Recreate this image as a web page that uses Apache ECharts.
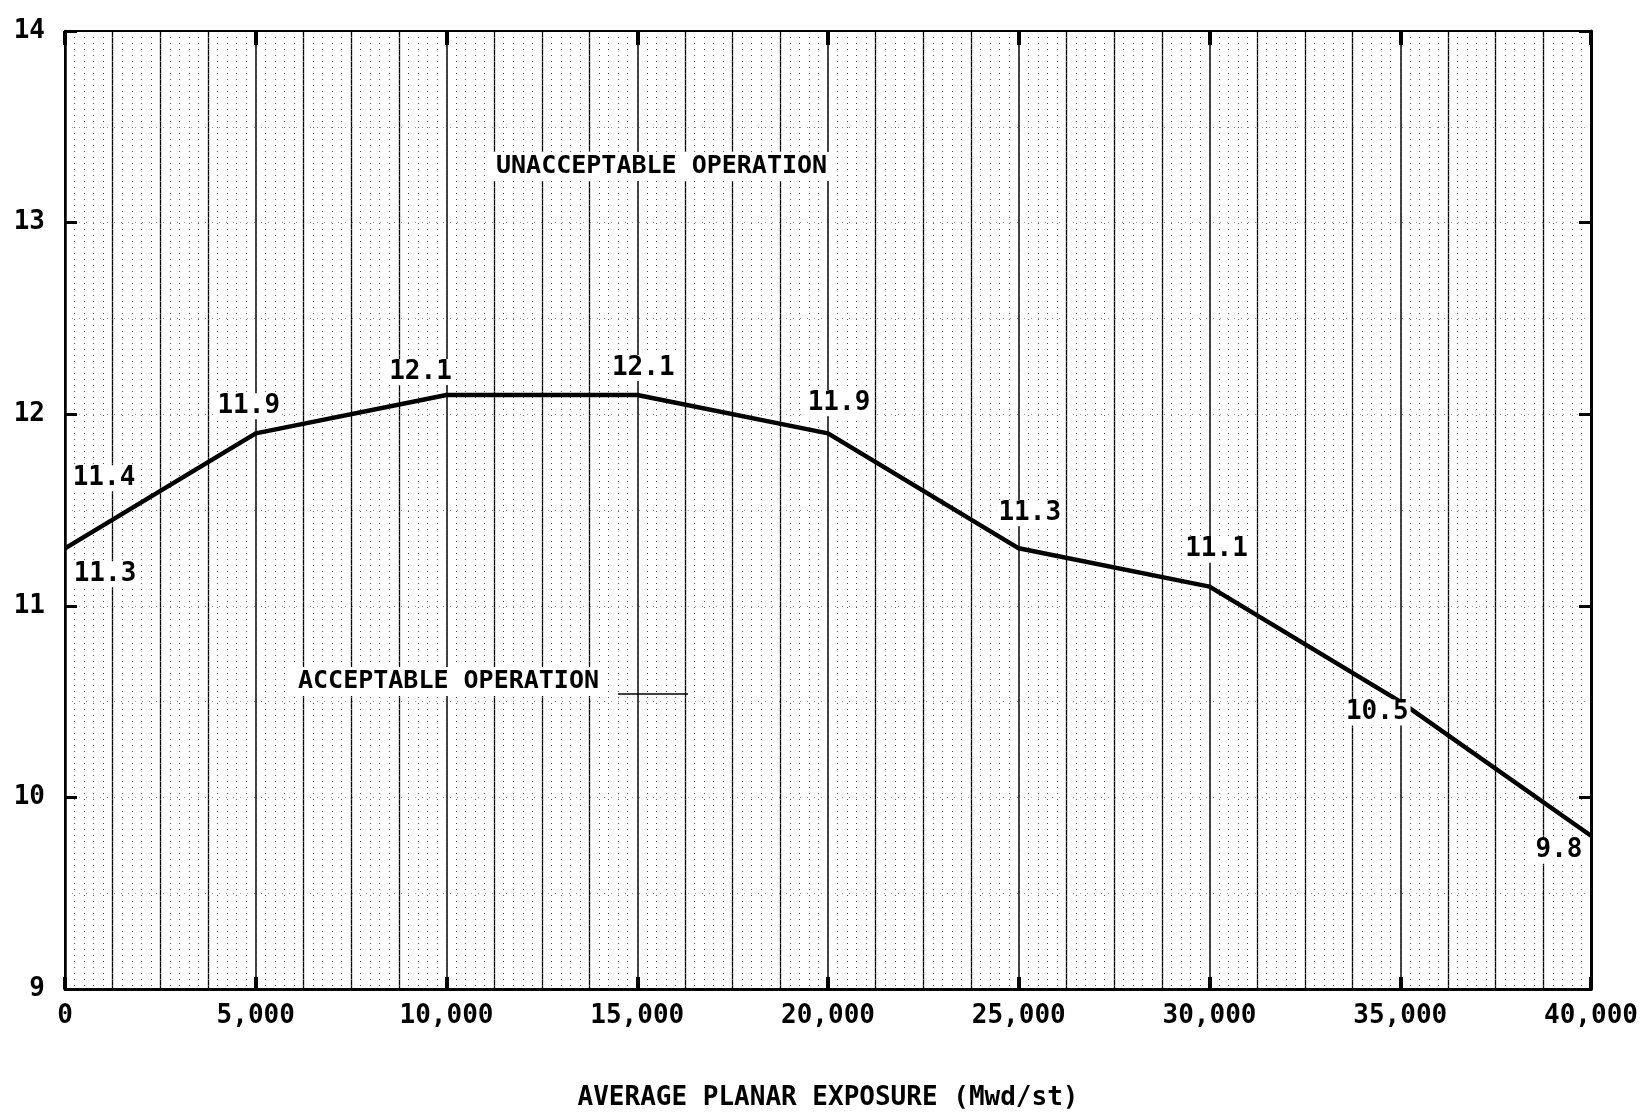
<!DOCTYPE html>
<html><head><meta charset="utf-8">
<script src="https://cdn.jsdelivr.net/npm/echarts@6/dist/echarts.min.js"></script>
<style>html,body{margin:0;padding:0;background:#fff}#c{width:1641px;height:1115px}</style>
</head><body><div id="c"></div>
<script>
// ---- data ----
const exposure = [0, 5000, 10000, 15000, 20000, 25000, 30000, 35000, 40000];
const mlhgr = [11.3, 11.9, 12.1, 12.1, 11.9, 11.3, 11.1, 10.5, 9.8];
const pointLabels = ['11.3', '11.9', '12.1', '12.1', '11.9', '11.3', '11.1', '10.5', '9.8'];
const extraLabelX = [0];
const extraLabelY = [11.3];
const extraLabelText = ['11.4'];
const xTickLabels = ['0', '5,000', '10,000', '15,000', '20,000', '25,000', '30,000', '35,000', '40,000'];
const yTickLabels = ['9', '10', '11', '12', '13', '14'];
const xTitle = 'AVERAGE PLANAR EXPOSURE (Mwd/st)';
const regionUpper = 'UNACCEPTABLE OPERATION';
const regionLower = 'ACCEPTABLE OPERATION';

// ---- styles (positions / offsets) ----
const labelOffsets = [[40, 26], [-7, -27], [-26, -23], [6, -27], [11, -30], [11, -35], [7, -37], [-23, 11], [-32, 15]];
const extraOffsets = [[39, -70]];
const FONT = '"DejaVu Sans Mono", "Liberation Mono", monospace';
const WEIGHT = 'bold';

const chart = echarts.init(document.getElementById('c'), null, {renderer: 'canvas'});

const lineData = exposure.map((x, i) => [x, mlhgr[i]]);
const labelData = exposure.map((x, i) => ({
  value: [x, mlhgr[i]],
  label: {formatter: pointLabels[i], offset: labelOffsets[i]}
})).concat(extraLabelX.map((x, i) => ({
  value: [x, extraLabelY[i]],
  label: {formatter: extraLabelText[i], offset: extraOffsets[i]}
})));

const textBase = {color: '#000', fontFamily: FONT, fontSize: 26, fontWeight: WEIGHT};

chart.setOption({
  animation: false,
  backgroundColor: '#fff',
  grid: {left: 65, right: 50, top: 31, bottom: 126, outerBoundsMode: 'none',
         show: true, borderColor: '#000', borderWidth: 2, backgroundColor: 'transparent'},
  xAxis: [
    {
      type: 'value', min: 0, max: 40000, interval: 5000, position: 'bottom',
      axisLine: {show: true, onZero: false, lineStyle: {color: '#000', width: 3}},
      axisTick: {show: true, inside: true, length: 12, lineStyle: {color: '#000', width: 4}},
      axisLabel: Object.assign({margin: 14, formatter: v => xTickLabels[Math.round(v / 5000)]}, textBase),
      splitLine: {show: true, lineStyle: {color: '#000', width: 1.5}},
      minorTick: {show: false, splitNumber: 4},
      minorSplitLine: {show: true, lineStyle: {color: '#000', width: 1.3}},
      name: xTitle, nameLocation: 'middle', nameGap: 96,
      nameTextStyle: textBase
    },
    {
      type: 'value', min: 0, max: 40000, interval: 5000, position: 'top',
      axisLine: {show: true, onZero: false, lineStyle: {color: '#000', width: 2}},
      axisTick: {show: true, inside: true, length: 14, lineStyle: {color: '#000', width: 4}},
      axisLabel: {show: false},
      splitLine: {show: false}
    },
    {
      type: 'value', min: 0, max: 40000, interval: 250, position: 'bottom', show: true,
      axisLine: {show: false}, axisTick: {show: false}, axisLabel: {show: false},
      splitLine: {show: true, lineStyle: {color: '#555', width: 1, type: [1, 5]}}
    }
  ],
  yAxis: [
    {
      type: 'value', min: 9, max: 14, interval: 1, position: 'left',
      axisLine: {show: true, onZero: false, lineStyle: {color: '#000', width: 2.5}},
      axisTick: {show: true, inside: true, length: 12, lineStyle: {color: '#000', width: 3}},
      axisLabel: Object.assign({margin: 20, formatter: v => yTickLabels[Math.round(v - 9)]}, textBase),
      splitLine: {show: false}
    },
    {
      type: 'value', min: 9, max: 14, interval: 1, position: 'right',
      axisLine: {show: true, onZero: false, lineStyle: {color: '#000', width: 3}},
      axisTick: {show: true, inside: true, length: 12, lineStyle: {color: '#000', width: 3}},
      axisLabel: {show: false},
      splitLine: {show: false}
    },
    {
      type: 'value', min: 9, max: 14, interval: 0.5, position: 'left', show: true,
      axisLine: {show: false}, axisTick: {show: false}, axisLabel: {show: false},
      splitLine: {show: true, lineStyle: {color: '#999', width: 1, type: [1, 6]}}
    }
  ],
  series: [
    {
      type: 'line', xAxisIndex: 0, yAxisIndex: 0, data: lineData,
      symbol: 'none', lineStyle: {color: '#000', width: 4.5}, z: 5
    },
    {
      type: 'scatter', xAxisIndex: 0, yAxisIndex: 0, data: labelData,
      symbolSize: 0, z: 6, silent: true, itemStyle: {opacity: 1, color: '#000'},
      label: Object.assign({show: true, position: 'inside', align: 'center', verticalAlign: 'middle',
                            backgroundColor: '#fff', padding: [0, 2], opacity: 1}, textBase)
    }
  ],
  graphic: [
    {type: 'text', left: 490, top: 152, z: 10,
     style: {text: regionUpper, fill: '#000', font: WEIGHT + ' 25px ' + FONT, backgroundColor: '#fff', padding: [2, 6]}},
    {type: 'text', left: 292, top: 667, z: 10,
     style: {text: regionLower, fill: '#000', font: WEIGHT + ' 25px ' + FONT, backgroundColor: '#fff', padding: [2, 6]}},
    {type: 'line', z: 10, shape: {x1: 618, y1: 694, x2: 688, y2: 694}, style: {stroke: '#000', lineWidth: 1.5}}
  ]
});
</script>
</body></html>
